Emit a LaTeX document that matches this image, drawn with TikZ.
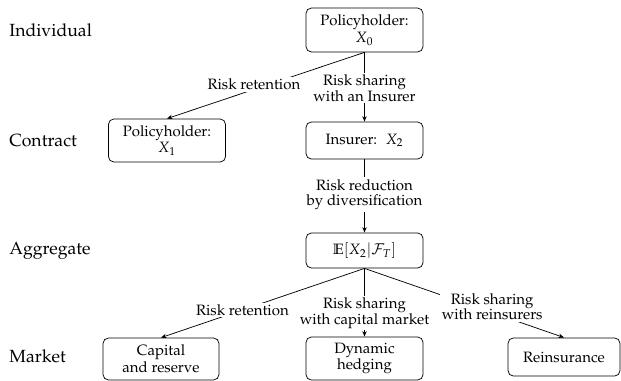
\documentclass[tikz,border=0pt]{standalone}
\usepackage[T1]{fontenc}
\usepackage{mathpazo}
\usetikzlibrary{arrows.meta}
\begin{document}
\begin{tikzpicture}[x=0.55pt,y=-0.55pt,
  every node/.style={font=\fontsize{8.25pt}{9.2pt}\selectfont},
  box/.style={draw, rounded corners=3pt, align=center, inner sep=1pt, line width=0.4pt, minimum width=64.4pt},
  lbl/.style={fill=white, align=center, inner sep=1pt, font=\fontsize{8.25pt}{8.5pt}\selectfont},
  row/.style={anchor=west, inner sep=0pt, font=\fontsize{9.7pt}{11pt}\selectfont},
  arr/.style={-{Stealth[length=3pt,width=2.4pt]}, line width=0.4pt}]
\useasboundingbox (0,0) rectangle (621,381);
% row labels
\node[row] (rind) at (9,30) {Individual};
\node[row] (rcon) at (9,141) {Contract};
\node[row] (ragg) at (9,251) {Aggregate};
\node[row] (rmkt) at (9,356) {Market};
% boxes
\node[box, minimum height=24.2pt] (x0) at (364.5,30) {Policyholder:\\ $X_0$};
\node[box, minimum height=23.7pt] (x1) at (167,140.5) {Policyholder:\\ $X_1$};
\node[box, minimum height=20.4pt] (ins) at (364.5,140.5) {Insurer: \ $X_2$};
\node[box, minimum height=19.3pt] (agg) at (364.5,250.5) {$\mathbb{E}[X_2|\mathcal{F}_T]$};
\node[box, minimum height=23.1pt, minimum width=63.8pt] (cap) at (161,359) {Capital\\ and reserve};
\node[box, minimum height=23.7pt] (dyn) at (364.5,358.5) {Dynamic\\ hedging};
\node[box, minimum height=21pt, minimum width=61.6pt] (rein) at (564,357) {Reinsurance};
% connectors
\draw[arr] (x0.south) -- node[lbl, pos=0.56, yshift=2.7pt] {Risk retention} (x1.north);
\draw[arr] (x0.south) -- node[lbl, pos=0.52] {Risk sharing\\ with an Insurer} (ins.north);
\draw[arr] (ins.south) -- node[lbl, pos=0.48] {Risk reduction\\ by diversification} (agg.north);
\draw[arr] (agg.south) -- node[lbl, pos=0.6] {Risk retention} (cap.north);
\draw[arr] (agg.south) -- node[lbl, pos=0.66] {Risk sharing\\ with capital market} (dyn.north);
\draw[arr] (agg.south) -- node[lbl, pos=0.64, yshift=3.3pt] {Risk sharing\\ with reinsurers} (rein.north);
\end{tikzpicture}
\end{document}
